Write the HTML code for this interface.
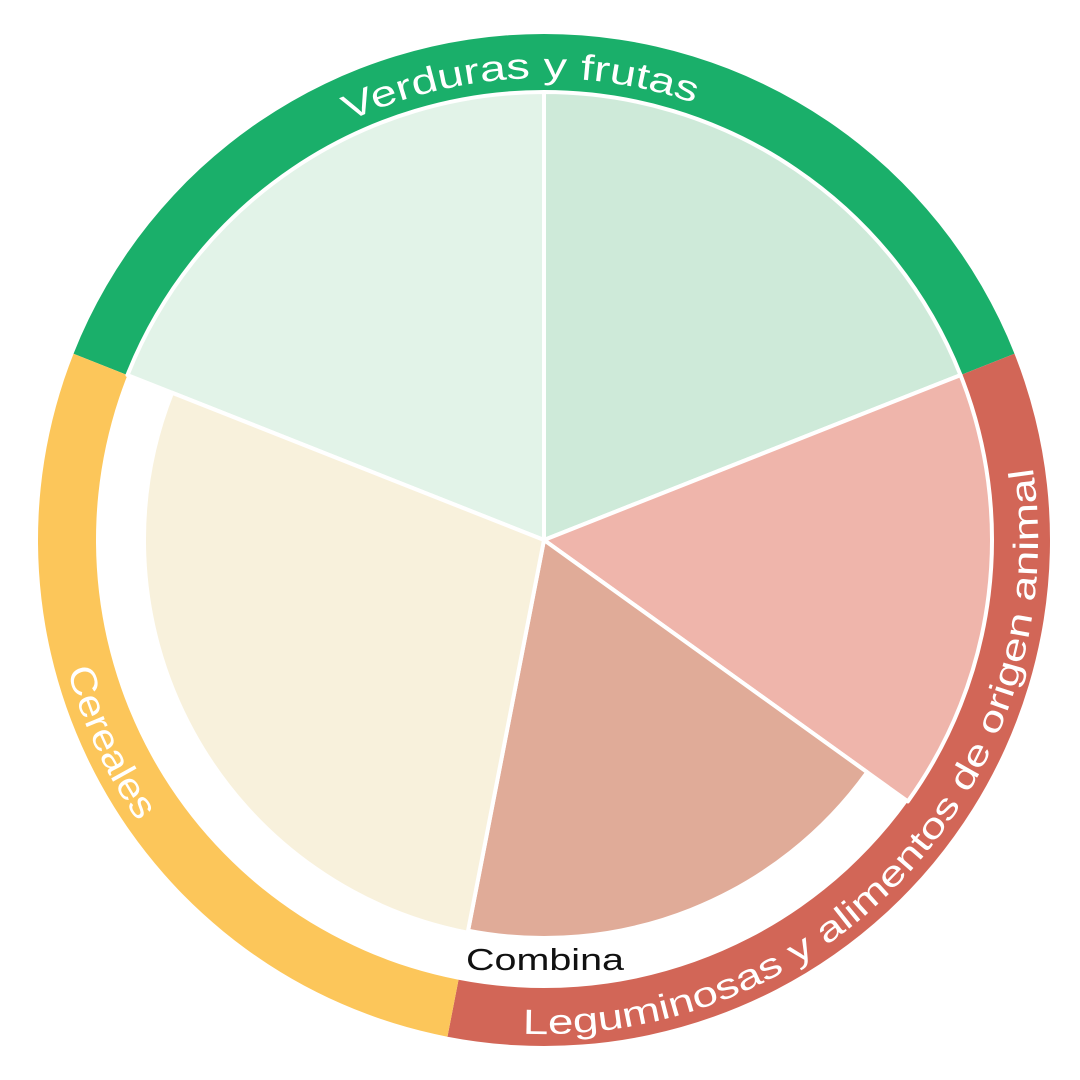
<!DOCTYPE html>
<html><head><meta charset="utf-8"><style>
html,body{margin:0;padding:0;background:#fff;width:1080px;height:1080px;overflow:hidden}
svg{display:block}
text{font-family:"Liberation Sans",sans-serif}
</style></head><body>
<svg id="chart" width="1080" height="1080" viewBox="0 0 1080 1080" xmlns="http://www.w3.org/2000/svg">
<defs id="defs"></defs>
<g id="ring"></g>
<g id="pie"></g>
<g id="labels"></g>
<text x="545" y="970" text-anchor="middle" font-size="31" fill="#111" textLength="158" lengthAdjust="spacingAndGlyphs">Combina</text>
</svg>
<script>
// Data
const sliceNames = ['verduras-left','verduras-right','origen-animal','leguminosas','cereales'];
const sliceDegrees = [68.4, 68.4, 57.3, 65.3, 100.6];
const sliceRadii = [448, 448, 448, 398, 400];
const sliceColors = ['#e2f3e8','#ceead9','#efb5ab','#e0ab98','#f8f1dc'];
const ringNames = ['Verduras y frutas','Leguminosas y alimentos de origen animal','Cereales'];
const ringDegrees = [136.8, 122.6, 100.6];
const ringColors = ['#1aaf6a','#d26657','#fcc65a'];
const startAngle = -68.4;

const cx=544, cy=540, NS='http://www.w3.org/2000/svg';
function pt(a,r){const t=a*Math.PI/180;return [cx+r*Math.sin(t), cy-r*Math.cos(t)];}
function sector(a1,a2,r){const p1=pt(a1,r),p2=pt(a2,r);const l=(a2-a1)>180?1:0;
 return `M${cx},${cy}L${p1[0]},${p1[1]}A${r},${r} 0 ${l} 1 ${p2[0]},${p2[1]}Z`;}
function annulus(a1,a2,r0,r1){const p1=pt(a1,r1),p2=pt(a2,r1),p3=pt(a2,r0),p4=pt(a1,r0);const l=(a2-a1)>180?1:0;
 return `M${p1[0]},${p1[1]}A${r1},${r1} 0 ${l} 1 ${p2[0]},${p2[1]}L${p3[0]},${p3[1]}A${r0},${r0} 0 ${l} 0 ${p4[0]},${p4[1]}Z`;}
function arcPath(a1,a2,r,cw){const p1=pt(a1,r),p2=pt(a2,r);const l=Math.abs(a2-a1)>180?1:0;
 return `M${p1[0]},${p1[1]}A${r},${r} 0 ${l} ${cw?1:0} ${p2[0]},${p2[1]}`;}

const ring=document.getElementById('ring');
let a=startAngle;
ringDegrees.forEach((d,i)=>{
 const p=document.createElementNS(NS,'path');
 p.setAttribute('d',annulus(a,a+d,448,506));
 p.setAttribute('fill',ringColors[i]);
 
 
 ring.appendChild(p); a+=d;
});
const pie=document.getElementById('pie');
a=startAngle;
sliceDegrees.forEach((d,i)=>{
 const p=document.createElementNS(NS,'path');
 p.setAttribute('d',sector(a,a+d,sliceRadii[i]));
 p.setAttribute('fill',sliceColors[i]);
 p.setAttribute('stroke','#fff');
 p.setAttribute('stroke-width','4');
 p.setAttribute('stroke-linejoin','round');
 
 
 pie.appendChild(p); a+=d;
});

// Curved labels
const defs=document.getElementById('defs');
const labels=document.getElementById('labels');
const labelSpecs=[
 {id:'lp0',d:arcPath(-92,86,462,true),text:ringNames[0],len:355,fs:36,name:'label-verduras-y-frutas'},
 {id:'lp1',d:arcPath(192,72,494,false),text:ringNames[1],len:870,fs:35,name:'label-leguminosas'},
 {id:'lp2',d:arcPath(300,190,494,false),text:ringNames[2],len:168,fs:37,name:'label-cereales'}
];
labelSpecs.forEach(s=>{
 const p=document.createElementNS(NS,'path');
 p.setAttribute('id',s.id);p.setAttribute('d',s.d);p.setAttribute('fill','none');
 defs.appendChild(p);
 const t=document.createElementNS(NS,'text');
 t.setAttribute('font-size',s.fs);t.setAttribute('fill','#fff');
 
 
 const tp=document.createElementNS(NS,'textPath');
 tp.setAttribute('href','#'+s.id);
 tp.setAttribute('startOffset','50%');
 tp.setAttribute('text-anchor','middle');
 tp.setAttribute('textLength',s.len);
 tp.setAttribute('lengthAdjust','spacingAndGlyphs');
 tp.textContent=s.text;
 t.appendChild(tp);labels.appendChild(t);
});
</script>
</body></html>
